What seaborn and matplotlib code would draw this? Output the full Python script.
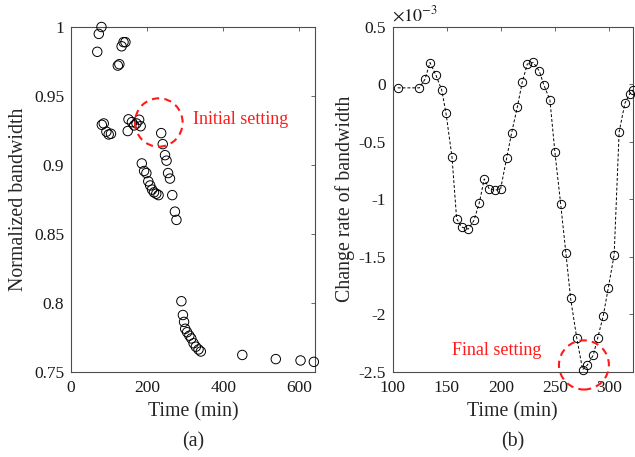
import numpy as np
import pandas as pd
import matplotlib
matplotlib.use("Agg")
import matplotlib.pyplot as plt
import seaborn as sns
from matplotlib.patches import Ellipse

# ---------------- data ----------------
# (a) normalized bandwidth vs time
time_a = [69, 73, 80, 81, 86, 93, 99, 105, 123, 127, 133, 138, 143,
          149, 151, 160, 166, 172, 179, 183,
          186, 192, 198, 203, 208, 213, 218, 224, 230,
          237, 241, 247, 251, 255, 260, 266, 273, 277,
          290, 294, 297, 300, 305, 311, 316, 322, 328, 335, 341,
          450, 538, 603, 638]
bw_a = [0.982, 0.995, 1.000, 0.929, 0.930, 0.924, 0.922, 0.9225, 0.972, 0.973, 0.986, 0.989, 0.989,
        0.9245, 0.933, 0.931, 0.9286, 0.930, 0.9327, 0.928,
        0.901, 0.8955, 0.894, 0.888, 0.885, 0.882, 0.880, 0.879, 0.878,
        0.923, 0.915, 0.907, 0.903, 0.894, 0.890, 0.878, 0.866, 0.860,
        0.801, 0.791, 0.786, 0.781, 0.7785, 0.776, 0.774, 0.7705, 0.768, 0.766, 0.7645,
        0.762, 0.759, 0.758, 0.757]

# (b) change rate of bandwidth (x 1e-3)
time_b = [104.8, 124.7, 130, 134.6, 140.1, 145.4, 149.4, 154.9, 159.2, 163.8, 169.9,
          175.2, 180.1, 184.7, 189.3, 194.6, 199.8, 205.3, 210, 215.2, 219.7, 224.4,
          230, 235.4, 239.8, 245.3, 249.9, 255.2, 260, 264.4, 270, 275.5, 279.7,
          285.3, 289.3, 294.5, 299.1, 304.6, 309.2, 314.5, 319.1, 322.2]
rate_b = [-0.03, -0.03, 0.045, 0.19, 0.08, -0.048, -0.252, -0.63, -1.17, -1.242, -1.26,
          -1.184, -1.032, -0.823, -0.91, -0.922, -0.91, -0.645, -0.42, -0.197, 0.017, 0.177,
          0.191, 0.118, -0.007, -0.135, -0.59, -1.038, -1.464, -1.863, -2.204, -2.483, -2.446,
          -2.358, -2.212, -2.017, -1.776, -1.484, -0.415, -0.164, -0.08, -0.048]

xticks_a = [0, 200, 400, 600]
xticklabels_a = ["0", "200", "400", "600"]
yticks_a = [0.75, 0.8, 0.85, 0.9, 0.95, 1.0]
yticklabels_a = ["0.75", "0.8", "0.85", "0.9", "0.95", "1"]
xticks_b = [100, 150, 200, 250, 300]
xticklabels_b = ["100", "150", "200", "250", "300"]
yticks_b = [0.5, 0, -0.5, -1, -1.5, -2, -2.5]
yticklabels_b = ["0.5", "0", "-0.5", "-1", "-1.5", "-2", "-2.5"]

df_a = pd.DataFrame({"time": time_a, "bw": bw_a})
df_b = pd.DataFrame({"time": time_b, "rate": rate_b})

# ---------------- style ----------------
sns.set_style("white")
plt.rcParams["font.family"] = ["Liberation Serif", "DejaVu Serif"]
plt.rcParams["mathtext.fontset"] = "stix"
plt.rcParams["axes.unicode_minus"] = False

W, H = 635, 457
fig = plt.figure(figsize=(W / 100, H / 100), dpi=100)

def ax_rect(x0, x1, y0, y1):
    return [x0 / W, (H - y1) / H, (x1 - x0) / W, (y1 - y0) / H]

ax1 = fig.add_axes(ax_rect(71, 315, 27, 371.5))
ax2 = fig.add_axes(ax_rect(392.5, 633, 27, 371.5))

spine_col = "#4d4d4d"
tick_fs = 12.5
lab_fs = 14.3

for ax in (ax1, ax2):
    for s in ax.spines.values():
        s.set_color(spine_col)
        s.set_linewidth(0.8)
        s.set_visible(True)
    ax.tick_params(direction="in", top=True, right=True, length=3, width=0.6,
                   color=spine_col, labelsize=tick_fs, labelcolor="#1a1a1a")
    ax.tick_params(axis="x", pad=6)
    ax.tick_params(axis="y", pad=5)

# (a)
sns.scatterplot(data=df_a, x="time", y="bw", ax=ax1, marker="o", s=46,
                color="black", edgecolor="black", linewidth=0.7, legend=False,
                clip_on=False, zorder=3)
for coll in ax1.collections:
    coll.set_facecolor("none")
    coll.set_edgecolor("black")
ax1.set_xlim(0, 641)
ax1.set_ylim(0.75, 1.0)
ax1.set_xticks(xticks_a, xticklabels_a)
ax1.set_yticks(yticks_a, yticklabels_a)
ax1.set_xlabel("Time (min)", fontsize=lab_fs)
ax1.set_ylabel("Normalized bandwidth", fontsize=lab_fs)
ax1.yaxis.set_label_coords(-0.176, 0.5)
ax1.xaxis.set_label_coords(0.5, -0.09)
ax1.add_patch(Ellipse((230.7, 0.9307), 125, 0.0351, fill=False, edgecolor="#ff1a1a",
                      linewidth=1.5, linestyle=(0, (3.5, 2.5)), zorder=4))
ax1.text(320.6, 0.933, "Initial setting", color="#ff1a1a", fontsize=13,
         ha="left", va="center")

# (b)
sns.lineplot(data=df_b, x="time", y="rate", ax=ax2, color="black", linewidth=0.7,
             linestyle=(0, (3, 2)), marker="o", markersize=6, markerfacecolor="none",
             markeredgecolor="black", markeredgewidth=0.7, legend=False, clip_on=False,
             zorder=3)
ax2.set_xlim(100, 322)
ax2.set_ylim(-2.5, 0.5)
ax2.set_xticks(xticks_b, xticklabels_b)
ax2.set_yticks(yticks_b, yticklabels_b)
ax2.set_xlabel("Time (min)", fontsize=lab_fs)
ax2.set_ylabel("Change rate of bandwidth", fontsize=lab_fs)
ax2.yaxis.set_label_coords(-0.156, 0.5)
ax2.xaxis.set_label_coords(0.5, -0.09)
ax2.text(0.0, 1.005, r"$\times10^{-3}$", transform=ax2.transAxes, fontsize=13,
         ha="left", va="bottom", color="#1a1a1a")
ax2.add_patch(Ellipse((276.7, -2.443), 46.1, 0.428, fill=False, edgecolor="#ff1a1a",
                      linewidth=1.5, linestyle=(0, (3.5, 2.5)), zorder=4, clip_on=False))
ax2.text(237.6, -2.32, "Final setting", color="#ff1a1a", fontsize=13,
         ha="right", va="center")

fig.text((71 + 315) / 2 / W, 1 - 442 / H, "(a)", ha="center", va="center", fontsize=lab_fs)
fig.text((392.5 + 633) / 2 / W, 1 - 442 / H, "(b)", ha="center", va="center", fontsize=lab_fs)

fig.savefig("out.png", dpi=100)
